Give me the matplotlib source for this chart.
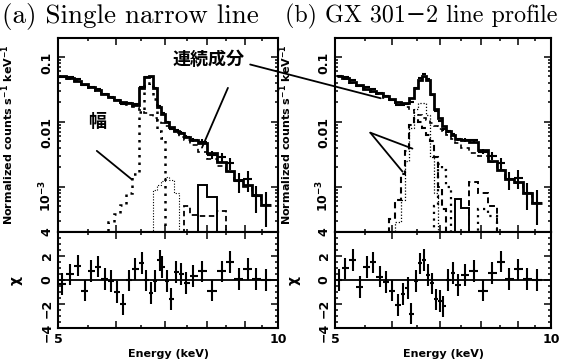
import numpy as np
import matplotlib.pyplot as plt
from matplotlib.patches import ConnectionPatch
from matplotlib.ticker import FixedLocator, FixedFormatter, NullFormatter, LogLocator, MultipleLocator

plt.rcParams['font.family'] = ['DejaVu Sans']
plt.rcParams['font.weight'] = 'bold'
plt.rcParams['mathtext.default'] = 'bf'

# ---- panel (a): single narrow line ----
ea = [5.07, 5.19, 5.32, 5.44, 5.55, 5.67, 5.79, 5.90, 6.02, 6.13, 6.25, 6.37, 6.52, 6.60, 6.70, 6.78,
      6.89, 6.94, 7.05, 7.14, 7.26, 7.36, 7.49, 7.66, 7.88, 8.13, 8.37, 8.59, 8.83, 9.09, 9.33, 9.62]
data_a = [-1.31, -1.32, -1.35, -1.44, -1.46, -1.50, -1.57, -1.62, -1.67, -1.73, -1.72, -1.73, -1.46, -1.31, -1.31, -1.48,
          -1.76, -1.87, -2.00, -2.11, -2.13, -2.17, -2.23, -2.28, -2.31, -2.51, -2.55, -2.64, -2.92, -2.89, -3.15, -3.28]
err_a = [0.02, 0.02, 0.02, 0.02, 0.02, 0.02, 0.02, 0.025, 0.025, 0.03, 0.03, 0.03, 0.02, 0.02, 0.02, 0.03,
         0.03, 0.04, 0.04, 0.05, 0.05, 0.05, 0.06, 0.07, 0.09, 0.14, 0.18, 0.22, 0.33, 0.35, 0.45, 0.55]
model_a = [-1.30, -1.33, -1.37, -1.42, -1.47, -1.52, -1.57, -1.62, -1.66, -1.70, -1.72, -1.74, -1.48, -1.31, -1.30, -1.48,
           -1.78, -1.88, -2.00, -2.08, -2.14, -2.18, -2.23, -2.29, -2.33, -2.48, -2.62, -2.76, -2.90, -2.98, -3.13, -3.28]
cont_a = [-1.31, -1.34, -1.38, -1.43, -1.48, -1.53, -1.58, -1.63, -1.67, -1.71, -1.74, -1.77, -1.82, -1.86, -1.90, -1.94,
          -1.99, -2.02, -2.07, -2.12, -2.18, -2.23, -2.29, -2.36, -2.47, -2.58, -2.68, -2.78, -2.90, -3.00, -3.13, -3.28]
line1_a = [-5, -5, -5, -5, -5, -5, -5, -3.55, -3.42, -3.28, -3.10, -2.80, -1.85, -1.45, -1.40, -1.65,
           -2.15, -2.25, -5, -5, -5, -5, -5, -5, -5, -5, -5, -5, -5, -5, -5, -5]
line2_a = [-5, -5, -5, -5, -5, -5, -5, -5, -5, -5, -5, -5, -5, -5, -5, -3.05,
           -2.98, -2.92, -2.85, -2.90, -3.10, -5, -5, -5, -5, -5, -5, -5, -5, -5, -5, -5]
dash_a = [-5, -5, -5, -5, -5, -5, -5, -5, -5, -5, -5, -5, -5, -5, -5, -5,
          -5, -5, -5, -5, -5, -5, -3.30, -3.43, -3.46, -3.46, -3.38, -5, -5, -5, -5, -5]
solid_a = [-5, -5, -5, -5, -5, -5, -5, -5, -5, -5, -5, -5, -5, -5, -5, -5,
           -5, -5, -5, -5, -5, -5, -5, -5, -2.98, -3.16, -5, -5, -5, -5, -5, -5]
resid_a = [-0.31, 0.46, 1.20, -0.89, 0.77, 1.11, 0.06, -0.09, -1.00, -2.03, -0.03, 0.91, 1.40, -0.03, -1.09, -0.09,
           1.63, 1.06, -0.09, -1.57, 0.69, 0.49, -0.23, 0.34, 0.71, -0.89, 0.71, 1.49, 0.06, 0.91, 0.06, 0.00]

# ---- panel (b): GX 301-2 line profile ----
eb = [5.07, 5.16, 5.30, 5.41, 5.54, 5.65, 5.77, 5.88, 6.01, 6.12, 6.22, 6.31, 6.39, 6.49, 6.57, 6.66, 6.73,
      6.82, 6.91, 7.00, 7.08, 7.19, 7.30, 7.42, 7.58, 7.80, 8.05, 8.28, 8.52, 8.75, 9.00, 9.27, 9.56]
data_b = [-1.29, -1.31, -1.36, -1.45, -1.47, -1.50, -1.56, -1.61, -1.66, -1.74, -1.74, -1.73, -1.70, -1.48, -1.33, -1.26, -1.35,
          -1.59, -1.84, -1.99, -2.12, -2.15, -2.19, -2.27, -2.28, -2.29, -2.46, -2.53, -2.64, -2.89, -2.87, -3.10, -3.25]
err_b = [0.02, 0.02, 0.02, 0.02, 0.02, 0.02, 0.02, 0.025, 0.025, 0.03, 0.03, 0.03, 0.03, 0.02, 0.02, 0.02, 0.02,
         0.03, 0.03, 0.04, 0.04, 0.05, 0.05, 0.05, 0.06, 0.07, 0.09, 0.14, 0.20, 0.30, 0.33, 0.45, 0.55]
model_b = [-1.29, -1.33, -1.39, -1.44, -1.49, -1.53, -1.56, -1.61, -1.65, -1.69, -1.71, -1.72, -1.64, -1.48, -1.36, -1.30, -1.36,
           -1.58, -1.80, -1.95, -2.07, -2.15, -2.20, -2.26, -2.29, -2.31, -2.43, -2.60, -2.74, -2.89, -2.93, -3.10, -3.25]
cont_b = [-1.30, -1.34, -1.40, -1.45, -1.50, -1.54, -1.58, -1.63, -1.67, -1.71, -1.74, -1.78, -1.82, -1.86, -1.90, -1.94, -1.98,
          -2.02, -2.07, -2.11, -2.16, -2.21, -2.27, -2.33, -2.40, -2.48, -2.53, -2.62, -2.74, -2.89, -2.95, -3.10, -3.25]
dash_b = [-5, -5, -5, -5, -5, -5, -5, -5, -3.50, -3.20, -2.80, -2.45, -2.05, -1.95, -2.00, -2.10, -2.20,
          -2.30, -2.55, -3.00, -3.35, -5, -5, -5, -5, -5, -5, -5, -5, -5, -5, -5, -5]
dot_b = [-5, -5, -5, -5, -5, -5, -5, -5, -5, -3.55, -3.20, -2.60, -2.10, -1.80, -1.72, -1.72, -1.90,
         -2.55, -3.10, -5, -5, -5, -5, -5, -5, -5, -5, -5, -5, -5, -5, -5, -5]
kb_b = [-5, -5, -5, -5, -5, -5, -5, -5, -5, -5, -5, -5, -5, -5, -5, -5, -5,
        -5, -3.30, -2.65, -2.75, -3.00, -5, -5, -5, -5, -3.35, -3.45, -5, -5, -5, -5, -5]
solid_b = [-5, -5, -5, -5, -5, -5, -5, -5, -5, -5, -5, -5, -5, -5, -5, -5, -5,
           -5, -5, -5, -5, -5, -5, -3.19, -3.33, -5, -5, -5, -5, -5, -5, -5, -5]
box_b = [-5, -5, -5, -5, -5, -5, -5, -5, -5, -5, -5, -5, -5, -5, -5, -5, -5,
         -5, -5, -5, -5, -5, -5, -5, -5, -2.93, -3.10, -3.30, -5, -5, -5, -5, -5]
resid_b = [0.00, 0.97, 1.68, -0.59, 1.09, 1.47, 0.29, -0.15, -0.88, -2.06, -1.18, -0.68, -2.80, -0.09, 1.38, 1.68, 0.44,
           -0.29, -1.62, -1.76, -2.20, 0.00, 0.59, -0.44, 0.44, 0.74, -0.88, 0.59, 1.53, 0.09, 0.88, 0.09, 0.00]


def edges_of(e):
    e = np.asarray(e)
    mid = np.sqrt(e[:-1] * e[1:])
    return np.concatenate([[e[0] ** 2 / mid[0]], mid, [e[-1] ** 2 / mid[-1]]])


def style(ax, bottom):
    ax.set_xscale('log')
    ax.set_xlim(5, 10)
    ax.xaxis.set_major_locator(FixedLocator([5, 6, 7, 8, 9, 10]))
    ax.xaxis.set_minor_locator(FixedLocator([5.5, 6.5, 7.5, 8.5, 9.5]))
    ax.xaxis.set_minor_formatter(NullFormatter())
    if bottom:
        ax.xaxis.set_major_formatter(FixedFormatter(['5', '', '', '', '', '10']))
    else:
        ax.xaxis.set_major_formatter(NullFormatter())
    ax.tick_params(which='both', direction='in', top=True, right=True, width=1.1, labelsize=9)
    ax.tick_params(which='major', length=5)
    ax.tick_params(which='minor', length=2.5)
    ax.tick_params(axis='y', labelrotation=90, pad=3)
    for s in ax.spines.values():
        s.set_linewidth(1.5)


def spectrum(ax, e, data, err, model, cont, comps):
    e = np.asarray(e)
    ed = edges_of(e)
    y = 10 ** np.asarray(data)
    ax.set_yscale('log')
    ax.set_ylim(2.0e-4, 0.194)
    ax.yaxis.set_major_locator(FixedLocator([1e-3, 1e-2, 1e-1]))
    ax.yaxis.set_major_formatter(FixedFormatter([r'$10^{-3}$', '0.01', '0.1']))
    ax.yaxis.set_minor_locator(LogLocator(subs=np.arange(2, 10)))
    ax.yaxis.set_minor_formatter(NullFormatter())
    for vals, ls, lw in comps:
        ax.stairs(10 ** np.asarray(vals, float), ed, color='k', ls=ls, lw=lw, baseline=None)
    ax.stairs(10 ** np.asarray(cont), ed, color='k', ls=(0, (3, 2.5)), lw=1.2, baseline=None)
    ax.stairs(10 ** np.asarray(model), ed, color='k', lw=2.0, baseline=None)
    ax.errorbar(e, y, yerr=np.asarray(err) * y, xerr=[e - ed[:-1], ed[1:] - e],
                fmt='none', ecolor='k', elinewidth=1.5)
    ax.set_ylabel(r'Normalized counts s$^{-1}$ keV$^{-1}$', fontsize=8, fontweight='bold')
    ax.yaxis.set_label_coords(-0.19, 0.5)


def residual(ax, e, resid):
    e = np.asarray(e)
    ed = edges_of(e)
    ax.axhline(0, color='k', lw=1.3)
    ax.errorbar(e, resid, yerr=0.9, xerr=[e - ed[:-1], ed[1:] - e],
                fmt='none', ecolor='k', elinewidth=1.5)
    ax.set_ylim(-4, 4)
    ax.yaxis.set_major_locator(MultipleLocator(2))
    ax.yaxis.set_minor_locator(MultipleLocator(0.5))
    ax.set_ylabel('χ', fontsize=10, fontweight='bold')
    ax.yaxis.set_label_coords(-0.16, 0.5)
    ax.set_xlabel('Energy (keV)', fontsize=8, fontweight='bold', labelpad=2)


fig = plt.figure(figsize=(5.66, 3.64), dpi=100)
axa = fig.add_axes([0.1025, 0.3626, 0.3887, 0.533])
axa_r = fig.add_axes([0.1025, 0.0989, 0.3887, 0.2637])
axb = fig.add_axes([0.5919, 0.3626, 0.3816, 0.533])
axb_r = fig.add_axes([0.5919, 0.0989, 0.3816, 0.2637])

spectrum(axa, ea, data_a, err_a, model_a, cont_a,
         [(line1_a, (0, (1, 2)), 1.8), (line2_a, (0, (1, 1.5)), 0.8),
          (dash_a, (0, (3, 2)), 1.3), (solid_a, '-', 1.4)])
spectrum(axb, eb, data_b, err_b, model_b, cont_b,
         [(dash_b, (0, (3, 2)), 1.5), (dot_b, (0, (1, 1.5)), 0.9),
          (kb_b, (0, (1, 2)), 1.6), (solid_b, '-', 1.4), (box_b, (0, (3, 2)), 1.4)])
residual(axa_r, ea, resid_a)
residual(axb_r, eb, resid_b)
for ax in (axa, axa_r, axb, axb_r):
    style(ax, ax in (axa_r, axb_r))

serif = ['cmr10', 'DejaVu Serif']
fig.text(0.004, 0.955, '(a) Single narrow line', family=serif, fontsize=19.5,
         fontweight='normal', va='center', ha='left')
fig.text(0.503, 0.955, '(b) GX 301\u22122 line profile', family=serif, fontsize=17.3,
         fontweight='normal', va='center', ha='left')

# annotations
cjk = ['Noto Sans CJK JP', 'DejaVu Sans']
axa.text(8.03, 0.092, '連続成分', family=cjk, fontsize=13, fontweight='bold', ha='center', va='center')
axa.text(5.65, 10 ** -1.99, '幅', family=cjk, fontsize=13, fontweight='bold', ha='center', va='center')
axa.annotate('', xy=(7.87, 10 ** -2.40), xytext=(8.54, 10 ** -1.48),
             arrowprops=dict(arrowstyle='-', lw=1.3, shrinkA=0, shrinkB=0))
axa.annotate('', xy=(6.31, 10 ** -2.89), xytext=(5.65, 10 ** -2.45),
             arrowprops=dict(arrowstyle='-', lw=1.3, shrinkA=0, shrinkB=0))
axb.annotate('', xy=(6.41, 10 ** -2.415), xytext=(5.60, 10 ** -2.17),
             arrowprops=dict(arrowstyle='-', lw=1.3, shrinkA=0, shrinkB=0))
axb.annotate('', xy=(6.21, 10 ** -2.77), xytext=(5.60, 10 ** -2.17),
             arrowprops=dict(arrowstyle='-', lw=1.3, shrinkA=0, shrinkB=0))
con = ConnectionPatch(xyA=(9.16, 10 ** -1.12), coordsA=axa.transData,
                      xyB=(5.79, 10 ** -1.64), coordsB=axb.transData, lw=1.3, color='k')
fig.add_artist(con)

plt.savefig('out.png', dpi=100)
